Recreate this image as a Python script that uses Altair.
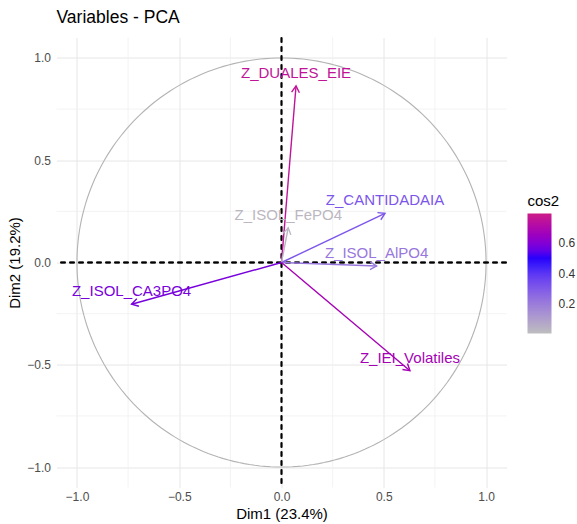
import math
import numpy as np
import pandas as pd
import altair as alt

FONT = "Liberation Sans"

# ---- data ----
variables = ["Z_DUALES_EIE", "Z_CANTIDADAIA", "Z_ISOL_FePO4", "Z_ISOL_AlPO4",
             "Z_ISOL_CA3PO4", "Z_IEI_Volatiles"]
dim1 = [0.071, 0.506, 0.033, 0.465, -0.733, 0.628]
dim2 = [0.863, 0.240, 0.170, -0.017, -0.204, -0.529]
cos2 = [0.750, 0.314, 0.030, 0.216, 0.579, 0.674]

major_ticks = [-1.0, -0.5, 0.0, 0.5, 1.0]
minor_ticks = [-0.75, -0.25, 0.25, 0.75]
legend_ticks = [0.2, 0.4, 0.6]

df = pd.DataFrame({"name": variables, "x": dim1, "y": dim2, "cos2": cos2})
df["angle"] = [(math.degrees(math.atan2(a, b)) + 360) % 360 for a, b in zip(dim1, dim2)]

theta = np.linspace(0, 2 * np.pi, 241)
circle = pd.DataFrame({"i": np.arange(len(theta)), "cx": np.cos(theta), "cy": np.sin(theta)})
minor = pd.DataFrame({"v": minor_ticks})

xs = alt.Scale(domain=[-1.1, 1.1], nice=False, zero=False)
ys = alt.Scale(domain=[-1.1, 1.1], nice=False, zero=False)

color_scale = alt.Scale(domain=[0.01, 0.49, 0.79],
                        range=["#BEBEBE", "#0000FF", "#CC1C88"], interpolate="lab")
legend = alt.Legend(title="cos2", type="gradient", values=legend_ticks, orient="none",
                    legendX=471, legendY=156, gradientLength=120, gradientThickness=24,
                    direction="vertical", labelOverlap=False,
                    titleFontSize=15, titleFont=FONT, titleFontWeight=400,
                    titleColor="#000000", titlePadding=5,
                    labelFontSize=12, labelFont=FONT, labelColor="#333333",
                    labelOffset=7, format=".1f", gradientStrokeWidth=0)
color = alt.Color("cos2:Q", scale=color_scale, legend=legend)
color_nolegend = alt.Color("cos2:Q", scale=color_scale, legend=None)

xaxis = alt.Axis(values=major_ticks, format=".1f", title="Dim1 (23.4%)", ticks=False,
                 domain=False, labelFontSize=12, labelFont=FONT, labelColor="#4D4D4D",
                 labelPadding=4, titleFontSize=15, titleFont=FONT,
                 titleFontWeight="normal", titleColor="#000000", titlePadding=4,
                 gridColor="#E6E6E6", gridWidth=1)
yaxis = alt.Axis(values=major_ticks, format=".1f", title="Dim2 (19.2%)", ticks=False,
                 domain=False, labelFontSize=12, labelFont=FONT, labelColor="#4D4D4D",
                 labelPadding=6, titleFontSize=15, titleFont=FONT,
                 titleFontWeight="normal", titleColor="#000000", titlePadding=4,
                 gridColor="#E6E6E6", gridWidth=1)

minor_v = alt.Chart(minor).mark_rule(color="#F0F0F0", strokeWidth=0.8).encode(
    x=alt.X("v:Q", scale=xs, axis=xaxis))
minor_h = alt.Chart(minor).mark_rule(color="#F0F0F0", strokeWidth=0.8).encode(
    y=alt.Y("v:Q", scale=ys, axis=yaxis))

circ = alt.Chart(circle).mark_line(color="#B3B3B3", strokeWidth=1.1).encode(
    x=alt.X("cx:Q", scale=xs, axis=xaxis),
    y=alt.Y("cy:Q", scale=ys, axis=yaxis),
    order="i:Q")

vline = alt.Chart(minor).mark_rule(color="#000000", strokeDash=[5, 4], strokeWidth=1.4).encode(
    x=alt.datum(0.0, scale=xs))
hline = alt.Chart(minor).mark_rule(color="#000000", strokeDash=[5, 4], strokeWidth=1.4).encode(
    y=alt.datum(0.0, scale=ys))

base = alt.Chart(df)
arrows = base.mark_rule(strokeWidth=1.4).encode(
    x=alt.X("x:Q", scale=xs, axis=xaxis),
    y=alt.Y("y:Q", scale=ys, axis=yaxis),
    x2=alt.datum(0.0), y2=alt.datum(0.0),
    color=color)

heads = base.mark_point(shape="M-0.6,1 L0,0 L0.6,1", filled=False, strokeWidth=1.4,
                        size=170, opacity=1).encode(
    x=alt.X("x:Q", scale=xs, axis=xaxis),
    y=alt.Y("y:Q", scale=ys, axis=yaxis),
    angle=alt.Angle("angle:Q", scale=None),
    color=color_nolegend)

labels = base.mark_text(dy=-13, fontSize=15, font=FONT, baseline="middle", align="center").encode(
    x=alt.X("x:Q", scale=xs, axis=xaxis),
    y=alt.Y("y:Q", scale=ys, axis=yaxis),
    text="name:N",
    color=color_nolegend)

chart = alt.layer(minor_v, minor_h, circ, vline, hline, arrows, heads, labels).properties(
    width=450, height=450,
    title=alt.TitleParams("Variables - PCA", anchor="start", frame="group", fontSize=17.5,
                          font=FONT, fontWeight="normal", color="#000000", offset=10),
    autosize=alt.AutoSizeParams(type="none"),
    padding={"left": 56.5, "top": 37.5, "right": 70.5, "bottom": 36.5},
    background="#FFFFFF",
).resolve_legend(color="independent").configure_view(stroke=None).configure_legend(
    titleFontWeight=400, labelOverlap=False, titleFont=FONT, labelFont=FONT)

chart.save("out.html", embed_options={"renderer": "svg", "actions": False})
